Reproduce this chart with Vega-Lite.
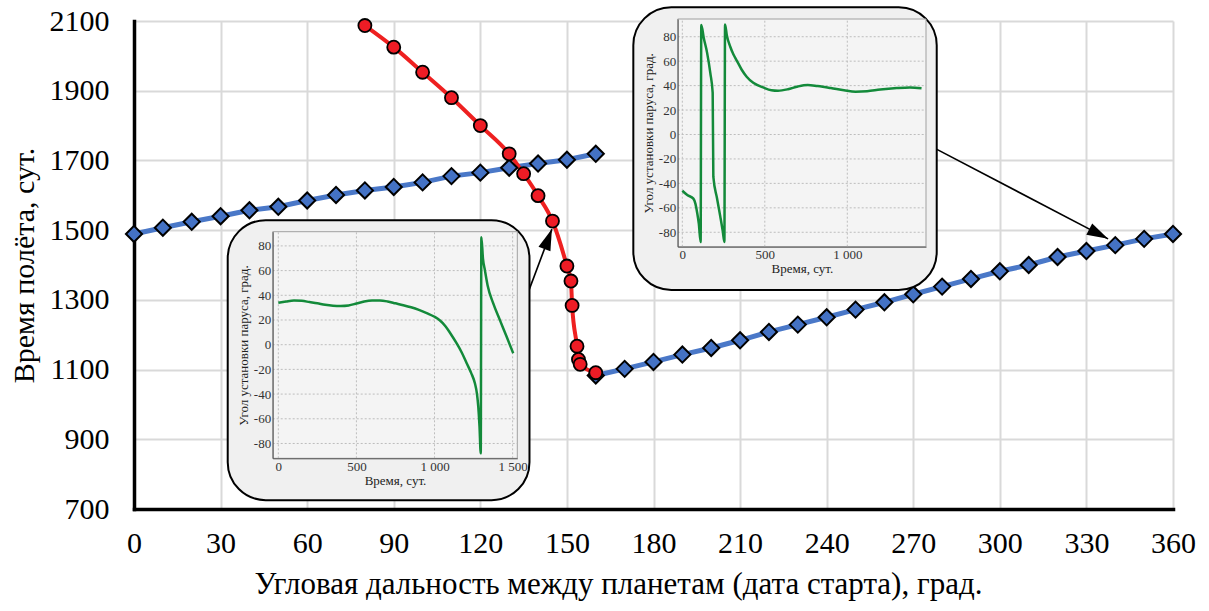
{
  "$schema": "https://vega.github.io/schema/vega-lite/v6.json",
  "width": 1039,
  "height": 488,
  "autosize": {"type": "none"},
  "padding": {"left": 134, "top": 21, "right": 36, "bottom": 102},
  "background": "white",
  "config": {"view": {"stroke": null}, "font": "Liberation Serif"},
  "datasets": {
    "blue": [
      {"x": 0, "y": 1489, "seg": "a"}, {"x": 10, "y": 1507, "seg": "a"}, {"x": 20, "y": 1524, "seg": "a"},
      {"x": 30, "y": 1540, "seg": "a"}, {"x": 40, "y": 1557, "seg": "a"}, {"x": 50, "y": 1567, "seg": "a"},
      {"x": 60, "y": 1585, "seg": "a"}, {"x": 70, "y": 1601, "seg": "a"}, {"x": 80, "y": 1614, "seg": "a"},
      {"x": 90, "y": 1624, "seg": "a"}, {"x": 100, "y": 1637, "seg": "a"}, {"x": 110, "y": 1655, "seg": "a"},
      {"x": 120, "y": 1665, "seg": "a"}, {"x": 130, "y": 1679, "seg": "a"}, {"x": 140, "y": 1691, "seg": "a"},
      {"x": 150, "y": 1702, "seg": "a"}, {"x": 160, "y": 1719, "seg": "a"},
      {"x": 160, "y": 1083, "seg": "b"}, {"x": 170, "y": 1102, "seg": "b"}, {"x": 180, "y": 1122, "seg": "b"},
      {"x": 190, "y": 1143, "seg": "b"}, {"x": 200, "y": 1162, "seg": "b"}, {"x": 210, "y": 1184, "seg": "b"},
      {"x": 220, "y": 1208, "seg": "b"}, {"x": 230, "y": 1229, "seg": "b"}, {"x": 240, "y": 1250, "seg": "b"},
      {"x": 250, "y": 1272, "seg": "b"}, {"x": 260, "y": 1293, "seg": "b"}, {"x": 270, "y": 1316, "seg": "b"},
      {"x": 280, "y": 1338, "seg": "b"}, {"x": 290, "y": 1360, "seg": "b"}, {"x": 300, "y": 1382, "seg": "b"},
      {"x": 310, "y": 1400, "seg": "b"}, {"x": 320, "y": 1423, "seg": "b"}, {"x": 330, "y": 1440, "seg": "b"},
      {"x": 340, "y": 1457, "seg": "b"}, {"x": 350, "y": 1475, "seg": "b"}, {"x": 360, "y": 1489, "seg": "b"}
    ],
    "red": [
      {"x": 80, "y": 2087}, {"x": 90, "y": 2025}, {"x": 100, "y": 1953}, {"x": 110, "y": 1880},
      {"x": 120, "y": 1800}, {"x": 130, "y": 1719}, {"x": 135, "y": 1662}, {"x": 140, "y": 1599},
      {"x": 145, "y": 1526}, {"x": 150, "y": 1397}, {"x": 151.4, "y": 1354}, {"x": 151.8, "y": 1284},
      {"x": 153.5, "y": 1167}, {"x": 154, "y": 1129}, {"x": 154.6, "y": 1115}, {"x": 160, "y": 1091}
    ],
    "arrows": [
      {"id": 1, "x": 136.5, "y": 1320, "x2": 144.8, "y2": 1503},
      {"id": 2, "x": 277.2, "y": 1736, "x2": 337.5, "y2": 1475}
    ],
    "gridy": [{"a": -80}, {"a": -60}, {"a": -40}, {"a": -20}, {"a": 0}, {"a": 20}, {"a": 40}, {"a": 60}, {"a": 80}],
    "ins1": [
      {"t": 0, "a": 34}, {"t": 50, "a": 35}, {"t": 100, "a": 35.7}, {"t": 150, "a": 35.5}, {"t": 200, "a": 34.5},
      {"t": 250, "a": 33.5}, {"t": 300, "a": 32.3}, {"t": 350, "a": 31.6}, {"t": 400, "a": 31.4}, {"t": 450, "a": 31.8},
      {"t": 500, "a": 33.3}, {"t": 550, "a": 35}, {"t": 600, "a": 35.8}, {"t": 650, "a": 35.8}, {"t": 700, "a": 35},
      {"t": 750, "a": 33.5}, {"t": 800, "a": 32}, {"t": 850, "a": 30.3}, {"t": 900, "a": 28.2}, {"t": 950, "a": 25.6},
      {"t": 1000, "a": 22.6}, {"t": 1035, "a": 19.6}, {"t": 1070, "a": 15}, {"t": 1100, "a": 9.5}, {"t": 1142, "a": 1},
      {"t": 1175, "a": -6.5}, {"t": 1206, "a": -15}, {"t": 1235, "a": -23}, {"t": 1259, "a": -31.5}, {"t": 1272, "a": -40},
      {"t": 1280, "a": -50}, {"t": 1288, "a": -66}, {"t": 1296, "a": -88}, {"t": 1300, "a": 87}, {"t": 1310, "a": 70},
      {"t": 1323, "a": 60}, {"t": 1340, "a": 48}, {"t": 1376, "a": 33.4}, {"t": 1420, "a": 19.5}, {"t": 1460, "a": 7},
      {"t": 1504, "a": -7}
    ],
    "ins2": [
      {"t": 0, "a": -46}, {"t": 30, "a": -49.5}, {"t": 67, "a": -52.5}, {"t": 80, "a": -57}, {"t": 90, "a": -64},
      {"t": 100, "a": -73}, {"t": 111, "a": -88}, {"t": 115, "a": 89.6}, {"t": 130, "a": 79}, {"t": 150, "a": 67},
      {"t": 170, "a": 50}, {"t": 184, "a": 34}, {"t": 188, "a": -34.5}, {"t": 210, "a": -52}, {"t": 230, "a": -67},
      {"t": 245, "a": -79}, {"t": 255, "a": -88}, {"t": 259, "a": 90}, {"t": 270, "a": 81}, {"t": 290, "a": 72},
      {"t": 310, "a": 65.5}, {"t": 330, "a": 60.5}, {"t": 360, "a": 53}, {"t": 390, "a": 47.3}, {"t": 430, "a": 42.3},
      {"t": 490, "a": 38.5}, {"t": 540, "a": 36.2}, {"t": 580, "a": 35.8}, {"t": 640, "a": 37}, {"t": 700, "a": 39.3},
      {"t": 760, "a": 40.5}, {"t": 820, "a": 39.6}, {"t": 900, "a": 38}, {"t": 980, "a": 36.2}, {"t": 1050, "a": 35},
      {"t": 1120, "a": 35.4}, {"t": 1200, "a": 36.8}, {"t": 1300, "a": 38}, {"t": 1380, "a": 38.5}, {"t": 1450, "a": 37.8}
    ]
  },
  "layer": [
    {
      "layer": [
        {
          "data": {"name": "blue"},
          "mark": {"type": "line", "color": "#4a78c8", "strokeWidth": 5},
          "encoding": {
            "x": {
              "field": "x", "type": "quantitative",
              "scale": {"domain": [0, 360], "nice": false, "zero": false},
              "axis": {
                "values": [0, 30, 60, 90, 120, 150, 180, 210, 240, 270, 300, 330, 360],
                "title": "Угловая дальность между планетам (дата старта), град.",
                "grid": true, "gridColor": "#d9d9d9", "gridWidth": 2,
                "domainColor": "black", "domainWidth": 3.5, "domainCap": "square", "ticks": false,
                "labelFont": "Liberation Serif", "labelFontSize": 30, "labelColor": "black",
                "labelPadding": 19, "labelFlush": false, "labelOverlap": false,
                "titleFont": "Liberation Serif", "titleFontSize": 31, "titleFontWeight": "normal",
                "titleColor": "black", "titlePadding": 11, "titleX": 484
              }
            },
            "y": {
              "field": "y", "type": "quantitative",
              "scale": {"domain": [700, 2100], "nice": false, "zero": false},
              "axis": {
                "values": [700, 900, 1100, 1300, 1500, 1700, 1900, 2100],
                "format": "d",
                "title": "Время полёта, сут.",
                "grid": true, "gridColor": "#d9d9d9", "gridWidth": 2,
                "domainColor": "black", "domainWidth": 3.5, "domainCap": "square", "ticks": false,
                "labelFont": "Liberation Serif", "labelFontSize": 30, "labelColor": "black",
                "labelPadding": 25, "labelOverlap": false,
                "titleFont": "Liberation Serif", "titleFontSize": 30, "titleFontWeight": "normal",
                "titleColor": "black", "titlePadding": 10
              }
            },
            "detail": {"field": "seg"}
          }
        },
        {
          "data": {"name": "red"},
          "mark": {"type": "line", "color": "#ee2020", "strokeWidth": 4, "interpolate": "monotone"},
          "encoding": {
            "x": {"field": "x", "type": "quantitative"},
            "y": {"field": "y", "type": "quantitative"}
          }
        },
        {
          "data": {"name": "blue"},
          "mark": {"type": "point", "shape": "diamond", "filled": true, "fill": "#4472c4", "stroke": "black", "strokeWidth": 2, "size": 260, "opacity": 1},
          "encoding": {
            "x": {"field": "x", "type": "quantitative"},
            "y": {"field": "y", "type": "quantitative"}
          }
        },
        {
          "data": {"name": "red"},
          "mark": {"type": "point", "shape": "circle", "filled": true, "fill": "#ee1c25", "stroke": "black", "strokeWidth": 1.8, "size": 170, "opacity": 1},
          "encoding": {
            "x": {"field": "x", "type": "quantitative"},
            "y": {"field": "y", "type": "quantitative"}
          }
        },
        {
          "data": {"name": "arrows"},
          "mark": {"type": "rule", "color": "black", "strokeWidth": 1.6},
          "encoding": {
            "x": {"field": "x", "type": "quantitative"},
            "y": {"field": "y", "type": "quantitative"},
            "x2": {"field": "x2"},
            "y2": {"field": "y2"}
          }
        },
        {
          "data": {"name": "arrows"},
          "transform": [{"filter": "datum.id == 1"}],
          "mark": {"type": "point", "shape": "M0,0L-0.3,1L0.3,1Z", "filled": true, "fill": "black", "strokeWidth": 0, "size": 1800, "angle": 20.6, "opacity": 1},
          "encoding": {
            "x": {"field": "x2", "type": "quantitative"},
            "y": {"field": "y2", "type": "quantitative"}
          }
        },
        {
          "data": {"name": "arrows"},
          "transform": [{"filter": "datum.id == 2"}],
          "mark": {"type": "point", "shape": "M0,0L-0.3,1L0.3,1Z", "filled": true, "fill": "black", "strokeWidth": 0, "size": 1800, "angle": 117.6, "opacity": 1},
          "encoding": {
            "x": {"field": "x2", "type": "quantitative"},
            "y": {"field": "y2", "type": "quantitative"}
          }
        }
      ]
    },
    {
      "layer": [
        {
          "data": {"values": [{"t": -324, "t2": 1608, "a": -125.9, "a2": 100.8}]},
          "mark": {"type": "rect", "cornerRadius": 38, "fill": "#f0f0f0", "stroke": "black", "strokeWidth": 2},
          "encoding": {
            "x": {
              "field": "t", "type": "quantitative",
              "scale": {"domain": [-36, 1530], "range": [138.7, 383.3], "nice": false, "zero": false},
              "axis": {
                "orient": "bottom", "offset": -50.7, "zindex": 1,
                "values": [0, 500, 1000, 1500],
                "labelExpr": "replace(format(datum.value, ',d'), ',', ' ')",
                "title": "Время, сут.",
                "grid": false,
                "domainColor": "#555555", "domainWidth": 1, "ticks": false,
                "labelFont": "Liberation Serif", "labelFontSize": 13, "labelColor": "#333333",
                "labelPadding": 2, "labelFlush": false, "labelOverlap": false,
                "titleFont": "Liberation Serif", "titleFontSize": 13, "titleFontWeight": "normal",
                "titleColor": "#222222", "titlePadding": 1
              }
            },
            "x2": {"field": "t2"},
            "y": {
              "field": "a", "type": "quantitative",
              "scale": {"domain": [-92, 91.5], "range": [437.3, 210.7], "nice": false, "zero": false},
              "axis": {
                "orient": "left", "offset": -138.7, "zindex": 1,
                "values": [-80, -60, -40, -20, 0, 20, 40, 60, 80],
                "labelExpr": "toString(datum.value)",
                "title": "Угол установки паруса, град.",
                "grid": false,
                "domainColor": "#555555", "domainWidth": 1, "ticks": false,
                "labelFont": "Liberation Serif", "labelFontSize": 13, "labelColor": "#333333",
                "labelPadding": 2, "labelOverlap": false,
                "titleFont": "Liberation Serif", "titleFontSize": 13, "titleFontWeight": "normal",
                "titleColor": "#222222", "titlePadding": 3
              }
            },
            "y2": {"field": "a2"}
          }
        },
        {
          "data": {"values": [{"t": -36, "t2": 1530, "a": -92, "a2": 91.5}]},
          "mark": {"type": "rect", "fill": "#f4f4f4", "stroke": "#a0a0a0", "strokeWidth": 1},
          "encoding": {
            "x": {"field": "t", "type": "quantitative"},
            "x2": {"field": "t2"},
            "y": {"field": "a", "type": "quantitative"},
            "y2": {"field": "a2"}
          }
        },
        {
          "data": {"values": [{"t": 0}, {"t": 500}, {"t": 1000}, {"t": 1500}]},
          "mark": {"type": "rule", "color": "#bdbdbd", "strokeWidth": 1, "strokeDash": [2, 2]},
          "encoding": {
            "x": {"field": "t", "type": "quantitative"},
            "y": {"datum": -92},
            "y2": {"datum": 91.5}
          }
        },
        {
          "data": {"name": "gridy"},
          "mark": {"type": "rule", "color": "#bdbdbd", "strokeWidth": 1, "strokeDash": [2, 2]},
          "encoding": {
            "y": {"field": "a", "type": "quantitative"},
            "x": {"datum": -36},
            "x2": {"datum": 1530}
          }
        },
        {
          "data": {"name": "ins1"},
          "mark": {"type": "line", "color": "#138a3a", "strokeWidth": 2.5, "interpolate": "monotone"},
          "encoding": {
            "x": {"field": "t", "type": "quantitative"},
            "y": {"field": "a", "type": "quantitative"}
          }
        }
      ]
    },
    {
      "layer": [
        {
          "data": {"values": [{"t": -297, "t2": 1542, "a": -127.2, "a2": 104.1}]},
          "mark": {"type": "rect", "cornerRadius": 38, "fill": "#f0f0f0", "stroke": "black", "strokeWidth": 2},
          "encoding": {
            "x": {
              "field": "t", "type": "quantitative",
              "scale": {"domain": [-28, 1477], "range": [543.7, 792], "nice": false, "zero": false},
              "axis": {
                "orient": "bottom", "offset": -262.3, "zindex": 1,
                "values": [0, 500, 1000],
                "labelExpr": "replace(format(datum.value, ',d'), ',', ' ')",
                "title": "Время, сут.",
                "grid": false,
                "domainColor": "#555555", "domainWidth": 1, "ticks": false,
                "labelFont": "Liberation Serif", "labelFontSize": 13, "labelColor": "#333333",
                "labelPadding": 2, "labelFlush": false, "labelOverlap": false,
                "titleFont": "Liberation Serif", "titleFontSize": 13, "titleFontWeight": "normal",
                "titleColor": "#222222", "titlePadding": 1
              }
            },
            "x2": {"field": "t2"},
            "y": {
              "field": "a", "type": "quantitative",
              "scale": {"domain": [-91.8, 94.5], "range": [225.7, -2], "nice": false, "zero": false},
              "axis": {
                "orient": "left", "offset": -543.7, "zindex": 1,
                "values": [-80, -60, -40, -20, 0, 20, 40, 60, 80],
                "labelExpr": "toString(datum.value)",
                "title": "Угол установки паруса, град.",
                "grid": false,
                "domainColor": "#555555", "domainWidth": 1, "ticks": false,
                "labelFont": "Liberation Serif", "labelFontSize": 13, "labelColor": "#333333",
                "labelPadding": 2, "labelOverlap": false,
                "titleFont": "Liberation Serif", "titleFontSize": 13, "titleFontWeight": "normal",
                "titleColor": "#222222", "titlePadding": 3
              }
            },
            "y2": {"field": "a2"}
          }
        },
        {
          "data": {"values": [{"t": -28, "t2": 1477, "a": -91.8, "a2": 94.5}]},
          "mark": {"type": "rect", "fill": "#f4f4f4", "stroke": "#a0a0a0", "strokeWidth": 1},
          "encoding": {
            "x": {"field": "t", "type": "quantitative"},
            "x2": {"field": "t2"},
            "y": {"field": "a", "type": "quantitative"},
            "y2": {"field": "a2"}
          }
        },
        {
          "data": {"values": [{"t": 0}, {"t": 500}, {"t": 1000}]},
          "mark": {"type": "rule", "color": "#bdbdbd", "strokeWidth": 1, "strokeDash": [2, 2]},
          "encoding": {
            "x": {"field": "t", "type": "quantitative"},
            "y": {"datum": -91.8},
            "y2": {"datum": 94.5}
          }
        },
        {
          "data": {"name": "gridy"},
          "mark": {"type": "rule", "color": "#bdbdbd", "strokeWidth": 1, "strokeDash": [2, 2]},
          "encoding": {
            "y": {"field": "a", "type": "quantitative"},
            "x": {"datum": -28},
            "x2": {"datum": 1477}
          }
        },
        {
          "data": {"name": "ins2"},
          "mark": {"type": "line", "color": "#138a3a", "strokeWidth": 2.5, "interpolate": "monotone"},
          "encoding": {
            "x": {"field": "t", "type": "quantitative"},
            "y": {"field": "a", "type": "quantitative"}
          }
        }
      ]
    }
  ],
  "resolve": {
    "scale": {"x": "independent", "y": "independent"},
    "axis": {"x": "independent", "y": "independent"}
  }
}
